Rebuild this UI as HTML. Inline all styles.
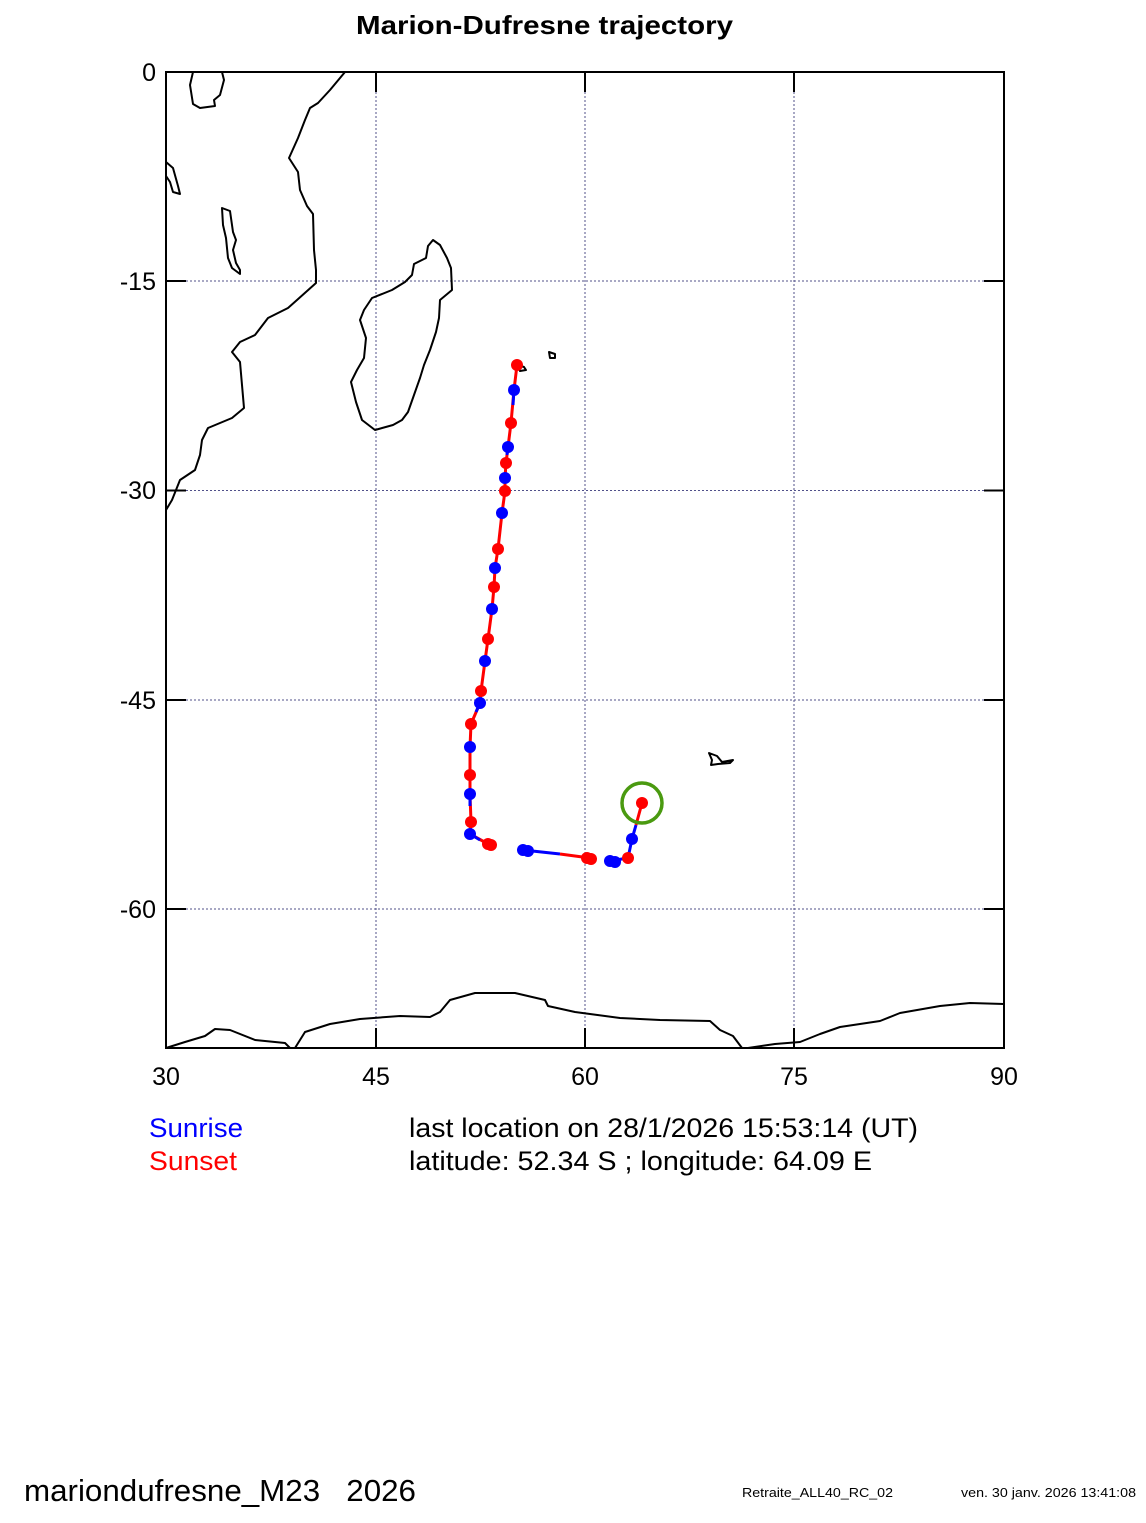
<!DOCTYPE html>
<html><head><meta charset="utf-8"><style>
body{margin:0;background:#fff;}
svg text{font-family:"Liberation Sans",Arial,sans-serif;white-space:pre;}
</style></head><body>
<svg width="1146" height="1518" viewBox="0 0 1146 1518" xmlns="http://www.w3.org/2000/svg">
<rect width="1146" height="1518" fill="#fff"/>
<text x="356" y="34" font-size="26" font-weight="bold" textLength="377" lengthAdjust="spacingAndGlyphs">Marion-Dufresne trajectory</text>
<g stroke="#50508a" stroke-width="1" stroke-dasharray="2,2">
<line x1="376" y1="72" x2="376" y2="1048"/><line x1="585" y1="72" x2="585" y2="1048"/><line x1="794" y1="72" x2="794" y2="1048"/>
<line x1="166" y1="281" x2="1004" y2="281"/><line x1="166" y1="490.5" x2="1004" y2="490.5"/><line x1="166" y1="700" x2="1004" y2="700"/><line x1="166" y1="909" x2="1004" y2="909"/>
</g>
<g fill="none" stroke="#000" stroke-width="2" stroke-linejoin="round">
<path d="M345,72 L330,90 L318,103 L310,108 L305,120 L298,138 L289,158 L298,172 L300,190 L307,206 L313,214 L314,250 L316,270 L316,283 L297,300 L288,308 L268,318 L255,335 L240,342 L232,352 L240,362 L242,385 L244,408 L232,418 L208,428 L202,440 L200,455 L195,470 L180,480 L172,500 L166,510"/>
<path d="M193,72 L190,85 L193,104 L200,108 L215,106 L214,100 L220,95 L224,80 L222,72"/>
<path d="M166,162 L173,168 L178,186 L180,194 L173,192 L170,182 L166,176"/>
<path d="M222,208 L230,211 L233,232 L236,240 L233,250 L236,263 L240,270 L240,274 L232,268 L228,258 L226,238 L223,225 Z"/>
<path d="M433,240 L440,245 L447,258 L451,268 L452,290 L446,295 L440,300 L439,318 L436,332 L430,350 L424,365 L420,378 L414,395 L408,412 L402,420 L393,425 L375,430 L362,420 L356,402 L351,382 L357,370 L364,358 L366,338 L360,320 L364,310 L372,298 L392,290 L405,282 L412,275 L414,264 L426,258 L428,246 Z"/>
<path d="M549,352 L555,354 L555,358 L550,358 Z"/>
<path d="M518,365 L524,367 L526,370 L520,371 Z"/>
<path d="M709,753 L717,756 L722,762 L733,760 L730,763 L718,764 L711,765 L712,760 Z"/>
<path d="M166,1048 L185,1042 L205,1036 L215,1029 L230,1030 L255,1040 L285,1043 L290,1048"/>
<path d="M295,1048 L305,1032 L330,1024 L360,1019 L400,1016 L430,1017 L440,1012 L450,1000 L475,993 L515,993 L545,1000 L548,1006 L575,1012 L620,1018 L660,1020 L710,1021 L720,1030 L733,1036 L742,1048"/>
<path d="M748,1048 L775,1044 L800,1042 L820,1034 L840,1027 L880,1021 L900,1013 L940,1006 L970,1003 L1004,1004"/>
</g>
<g stroke="#000" stroke-width="2">
<line x1="376" y1="72" x2="376" y2="92"/><line x1="585" y1="72" x2="585" y2="92"/><line x1="794" y1="72" x2="794" y2="92"/>
<line x1="376" y1="1028" x2="376" y2="1048"/><line x1="585" y1="1028" x2="585" y2="1048"/><line x1="794" y1="1028" x2="794" y2="1048"/>
<line x1="166" y1="281" x2="186" y2="281"/><line x1="166" y1="490.5" x2="186" y2="490.5"/><line x1="166" y1="700" x2="186" y2="700"/><line x1="166" y1="909" x2="186" y2="909"/>
<line x1="984" y1="281" x2="1004" y2="281"/><line x1="984" y1="490.5" x2="1004" y2="490.5"/><line x1="984" y1="700" x2="1004" y2="700"/><line x1="984" y1="909" x2="1004" y2="909"/>
</g>
<rect x="166" y="72" width="838" height="976" fill="none" stroke="#000" stroke-width="2"/>
<g stroke-width="3" fill="none">
<polyline stroke="#f00" points="517,365 514,390 511,423 508,447 506,463 505,478 505,491 502,513 498,549 495,568 494,587 492,609 488,639 485,661 481,691 480,703 471,724 470,747 470,775 470,794 471,822 470,834 490,845"/>
<polyline stroke="#00f" points="470,834 480,840"/>
<polyline stroke="#00f" points="523,850 560,854"/>
<polyline stroke="#f00" points="560,854 590,858"/>
<polyline stroke="#00f" points="610,861 628,858 632,839 636,825"/>
<polyline stroke="#f00" points="636,825 642,803"/>
<polyline stroke="#00f" points="514,390 513,405"/><polyline stroke="#00f" points="508,447 507,455"/>
<polyline stroke="#00f" points="480,703 476,712"/><polyline stroke="#00f" points="470,794 470,806"/>
</g>
<g fill="#00f">
<circle cx="514" cy="390" r="6"/><circle cx="508" cy="447" r="6"/><circle cx="505" cy="478" r="6"/><circle cx="502" cy="513" r="6"/><circle cx="495" cy="568" r="6"/><circle cx="492" cy="609" r="6"/><circle cx="485" cy="661" r="6"/><circle cx="480" cy="703" r="6"/><circle cx="470" cy="747" r="6"/><circle cx="470" cy="794" r="6"/><circle cx="470" cy="834" r="6"/><circle cx="523" cy="850" r="6"/><circle cx="528" cy="851" r="6"/><circle cx="610" cy="861" r="6"/><circle cx="615" cy="862" r="6"/><circle cx="632" cy="839" r="6"/>
</g>
<g fill="#f00">
<circle cx="517" cy="365" r="6"/><circle cx="511" cy="423" r="6"/><circle cx="506" cy="463" r="6"/><circle cx="505" cy="491" r="6"/><circle cx="498" cy="549" r="6"/><circle cx="494" cy="587" r="6"/><circle cx="488" cy="639" r="6"/><circle cx="481" cy="691" r="6"/><circle cx="471" cy="724" r="6"/><circle cx="470" cy="775" r="6"/><circle cx="471" cy="822" r="6"/><circle cx="488" cy="844" r="6"/><circle cx="491" cy="845" r="6"/><circle cx="587" cy="858" r="6"/><circle cx="591" cy="859" r="6"/><circle cx="628" cy="858" r="6"/><circle cx="642" cy="803" r="6"/>
</g>
<circle cx="642" cy="803" r="20" fill="none" stroke="#4a9a10" stroke-width="3.5"/>
<g font-size="25" text-anchor="end">
<text x="156" y="81">0</text><text x="156" y="290">-15</text><text x="156" y="499">-30</text><text x="156" y="709">-45</text><text x="156" y="918">-60</text>
</g>
<g font-size="25" text-anchor="middle">
<text x="166" y="1085">30</text><text x="376" y="1085">45</text><text x="585" y="1085">60</text><text x="794" y="1085">75</text><text x="1004" y="1085">90</text>
</g>
<text x="149" y="1137" font-size="27" fill="#00f" textLength="94" lengthAdjust="spacingAndGlyphs">Sunrise</text>
<text x="149" y="1170" font-size="27" fill="#f00" textLength="88" lengthAdjust="spacingAndGlyphs">Sunset</text>
<text x="409" y="1137" font-size="27" textLength="509" lengthAdjust="spacingAndGlyphs">last location on 28/1/2026 15:53:14 (UT)</text>
<text x="409" y="1170" font-size="27" textLength="463" lengthAdjust="spacingAndGlyphs">latitude: 52.34 S ; longitude: 64.09 E</text>
<text x="24" y="1501" font-size="31" textLength="392" lengthAdjust="spacingAndGlyphs" xml:space="preserve">mariondufresne_M23   2026</text>
<text x="742" y="1497" font-size="13" textLength="151" lengthAdjust="spacingAndGlyphs">Retraite_ALL40_RC_02</text>
<text x="961" y="1497" font-size="13" textLength="175" lengthAdjust="spacingAndGlyphs">ven. 30 janv. 2026 13:41:08</text>
</svg>
</body></html>
